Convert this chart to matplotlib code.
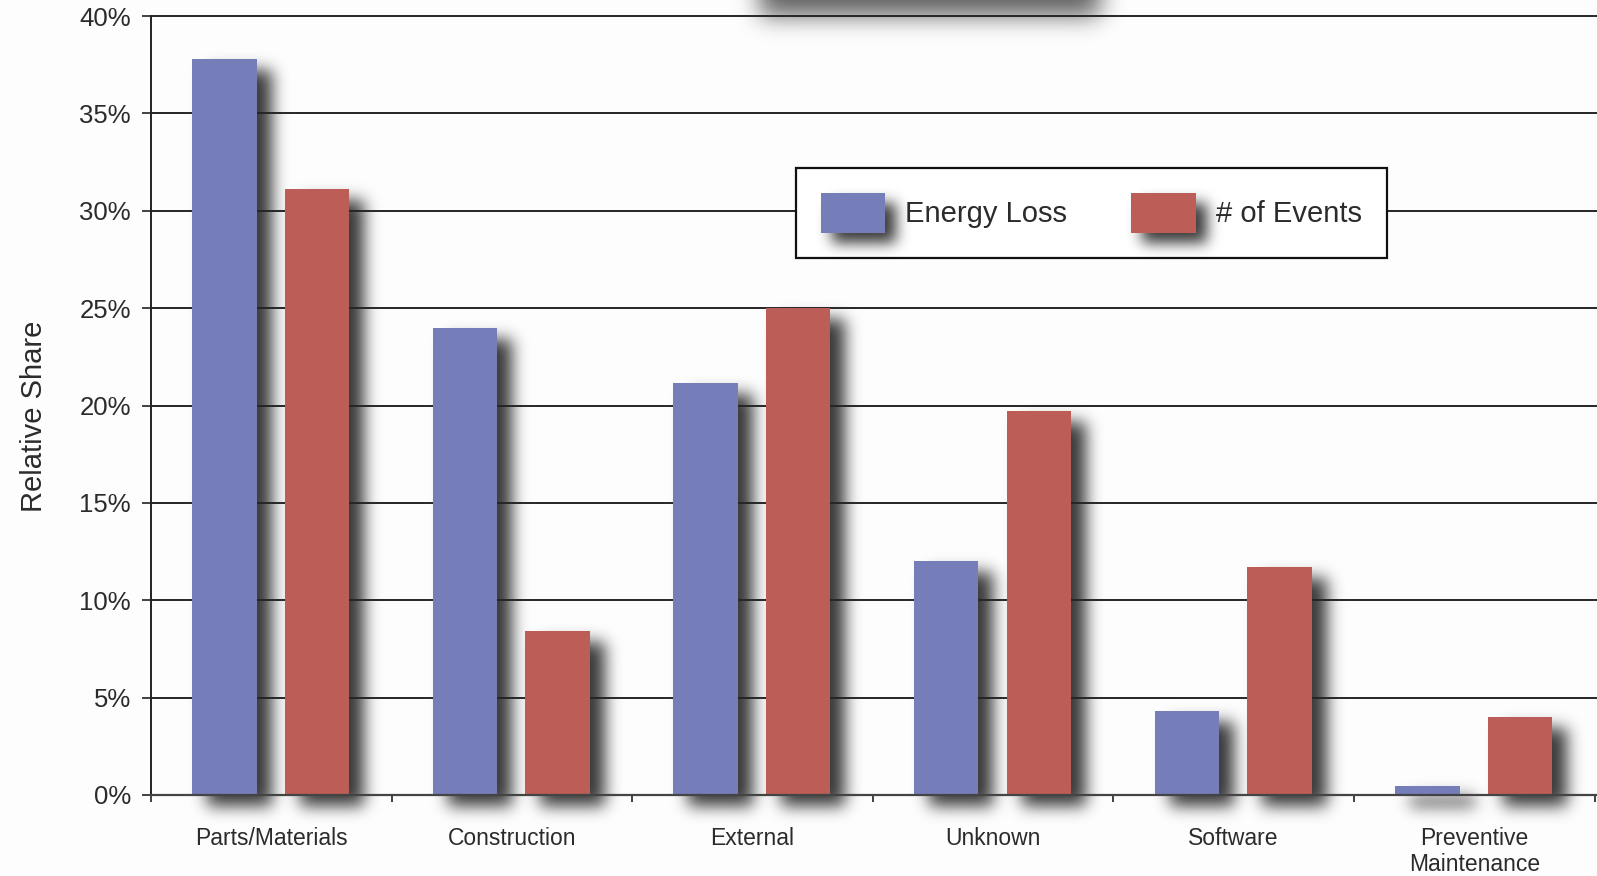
import numpy as np
import matplotlib
matplotlib.use("Agg")
import matplotlib.pyplot as plt

plt.rcParams['font.family'] = ['Liberation Sans', 'DejaVu Sans']

categories = ["Parts/Materials", "Construction", "External", "Unknown",
              "Software", "Preventive\nMaintenance"]
energy_loss = [37.8, 24.0, 21.15, 12.0, 4.3, 0.45]
num_events = [31.1, 8.4, 25.0, 19.7, 11.7, 4.0]
yticks = [0, 5, 10, 15, 20, 25, 30, 35, 40]
ytick_labels = [f"{v}%" for v in yticks]

BLUE = "#757eb9"
RED = "#bc5e57"
INK = "#2b2b2b"


def blur(a, sigma):
    r = int(3 * sigma)
    k = np.exp(-0.5 * (np.arange(-r, r + 1) / sigma) ** 2)
    k /= k.sum()
    a = np.apply_along_axis(np.convolve, 0, a, k, mode="same")
    a = np.apply_along_axis(np.convolve, 1, a, k, mode="same")
    return a


class DropShadow:
    # agg filter: soft black shadow offset down/right, optionally kept under the source
    def __init__(self, dx=15, dy=11, sigma=8.0, strength=0.78, keep=False):
        self.dx, self.dy = dx, dy
        self.sigma, self.strength, self.keep = sigma, strength, keep

    def __call__(self, im, dpi):
        pad = int(3 * self.sigma) + max(self.dx, self.dy) + 4
        src = np.pad(im, [(pad, pad), (pad, pad), (0, 0)])
        a = src[..., 3]
        shade = np.roll(np.roll(a, self.dy, axis=0), self.dx, axis=1)
        shade = np.clip(blur(shade, self.sigma) * self.strength, 0, 1)
        out = np.zeros_like(src)
        if self.keep:
            alpha = a + shade * (1 - a)
            out[..., :3] = src[..., :3] * (a / np.maximum(alpha, 1e-6))[..., None]
            out[..., 3] = alpha
        else:
            out[..., 3] = shade
        return np.clip(out, 0, 1), -pad, -pad


fig = plt.figure(figsize=(15.97, 8.76), dpi=100, facecolor="#fdfdfd")
ax = fig.add_axes([0.0946, 0.0925, 0.9054, 0.9003])
ax.set_facecolor("none")

x = np.arange(len(categories))
off_blue, off_red, w = -0.195, 0.19, 0.268

# shadows first, under the grid
for vals, off in [(energy_loss, off_blue), (num_events, off_red)]:
    sh = ax.bar(x + off, vals, width=w, color="black", zorder=0.2)
    for p in sh:
        p.set_agg_filter(DropShadow())

ax.bar(x + off_blue, energy_loss, width=w, color=BLUE, zorder=2, label="Energy Loss")
ax.bar(x + off_red, num_events, width=w, color=RED, zorder=2, label="# of Events")

ax.set_xlim(-0.5, 5.51)
ax.set_ylim(0, 40.5)
ax.set_axisbelow(True)
ax.yaxis.grid(True, color="#262626", linewidth=1.4)

ax.set_yticks(yticks)
ax.set_yticklabels(ytick_labels)
ax.set_xticks(np.arange(-0.5, 6, 1))
ax.set_xticklabels([])
ax.set_xticks(x, minor=True)
ax.set_xticklabels(categories, minor=True, linespacing=1.15)

ax.tick_params(axis="y", direction="out", length=6.5, width=1.2, color="#222",
               pad=8, labelsize=18.5, labelcolor=INK)
ax.tick_params(axis="x", which="major", direction="out", length=5, width=1.3,
               color="#333")
ax.tick_params(axis="x", which="minor", length=0, pad=23, labelsize=16.5,
               labelcolor=INK)

for s in ["top", "right"]:
    ax.spines[s].set_visible(False)
ax.spines["left"].set_bounds(0, 40)
ax.spines["left"].set_color("#222")
ax.spines["left"].set_linewidth(1.4)
ax.spines["bottom"].set_color("#444")
ax.spines["bottom"].set_linewidth(1.6)

ax.set_ylabel("Relative Share", fontsize=21, color=INK)
ax.yaxis.set_label_coords(-0.071, 0.48)

leg = ax.legend(loc="upper left", bbox_to_anchor=(0.446, 0.795), ncol=2,
                fontsize=21, frameon=True, fancybox=False, edgecolor="#111",
                borderpad=0.85, handlelength=2.2, handleheight=1.75,
                handletextpad=0.7, columnspacing=2.2, borderaxespad=0)
leg.get_frame().set_linewidth(1.6)
leg.get_frame().set_facecolor("white")
leg.get_frame().set_alpha(1)
for t in leg.get_texts():
    t.set_color(INK)
for h in leg.legend_handles:
    h.set_agg_filter(DropShadow(dx=11, dy=10, sigma=7, keep=True))

# soft shadow of the box sitting just above the plot
H, W, extra = 70, 560, 160
mask = np.zeros((H + extra, W))
mask[:extra + 16, 100:440] = 1
top_alpha = blur(mask, 12)[extra:] * 0.62
top_img = np.zeros((H, W, 4))
top_img[..., 3] = np.clip(top_alpha, 0, 1)
fig.figimage(top_img, xo=660, yo=876 - H, origin="upper", zorder=-1)

fig.savefig("out.png", dpi=100, facecolor=fig.get_facecolor())
